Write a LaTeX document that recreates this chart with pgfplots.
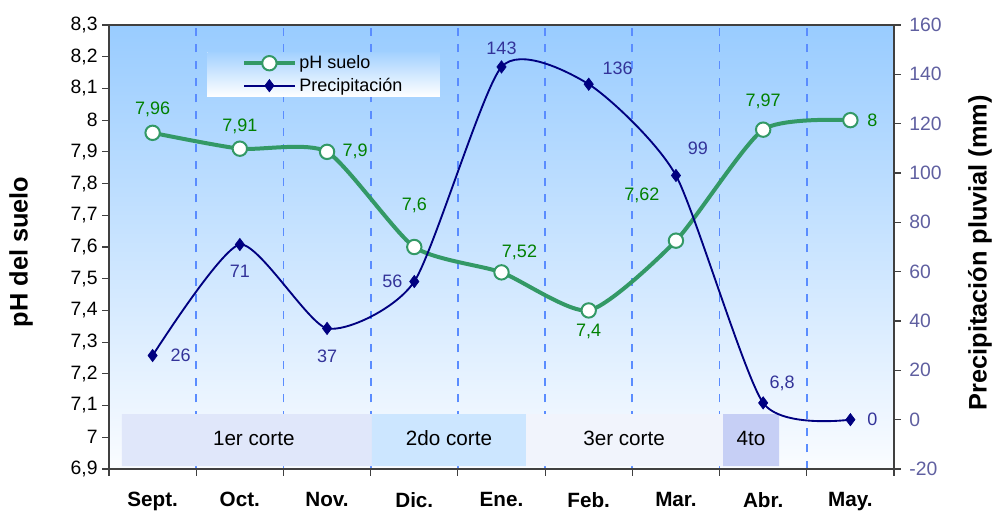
\documentclass[border=0pt]{standalone}
\usepackage{fontspec}
\setmainfont{Liberation Sans}
\usepackage{pgfplots}
\pgfplotsset{compat=1.18}
\usepackage{pgfplotstable}

\definecolor{phgreen}{HTML}{339966}
\definecolor{phlab}{HTML}{008000}
\definecolor{rainblue}{HTML}{000080}
\definecolor{rainlab}{HTML}{333399}
\definecolor{rightax}{HTML}{5F5FA0}
\definecolor{gridblue}{HTML}{5A8CFF}
\definecolor{bgtop}{HTML}{99CCFF}
\definecolor{bgbot}{HTML}{FAFCFF}
\definecolor{bandA}{HTML}{E0E7FA}
\definecolor{bandB}{HTML}{CCE6FF}
\definecolor{bandC}{HTML}{F1F4FC}
\definecolor{bandD}{HTML}{C6CFF5}
\definecolor{axisgray}{HTML}{404040}

\newcommand\labfont{\fontsize{13.5}{16}\selectfont}
\newcommand\bandfont{\fontsize{15.5}{18}\selectfont}
\newcommand\tickfont{\fontsize{14.5}{16}\selectfont}
\newcommand\titlefont{\fontsize{19}{22}\selectfont\bfseries}

% soil pH per month
\pgfplotstableread{
x y
0 7.96
1 7.91
2 7.90
3 7.60
4 7.52
5 7.40
6 7.62
7 7.97
8 8.00
}\phdata

% rainfall per month (mm)
\pgfplotstableread{
x y
0 26
1 71
2 37
3 56
4 143
5 136
6 99
7 6.8
8 0
}\raindata

\pgfplotsset{
  phstyle/.style={phgreen, line width=3pt, mark=*, mark size=5.4pt,
    mark options={fill=white, draw=phgreen, line width=1.5pt}},
  rainstyle/.style={rainblue, line width=1.4pt, mark=diamond*, mark size=4.6pt,
    mark options={fill=rainblue, draw=rainblue, line width=0.5pt}},
}
% value label placed beside a data point: {x}{y}{dx}{dy}{text}
\newcommand\phlabel[5]{\node[font=\labfont, text=phlab, inner sep=0pt, xshift=#3pt, yshift=#4pt] at (axis cs:#1,#2) {#5};}
\newcommand\rainlabel[5]{\node[font=\labfont, text=rainlab, inner sep=0pt, xshift=#3pt, yshift=#4pt] at (axis cs:#1,#2) {#5};}

\begin{document}
\begin{tikzpicture}
\useasboundingbox (-81.75pt,-31.5pt) rectangle (663.75pt,351.75pt);

\begin{axis}[
  scale only axis, width=588.75pt, height=333pt,
  xmin=-0.5, xmax=8.5, ymin=6.9, ymax=8.3,
  axis background/.style={top color=bgtop, bottom color=bgbot},
  axis line style={axisgray, line width=1.1pt},
  tick align=outside, xtick pos=left, ytick pos=left,
  major tick length=5pt,
  tick style={axisgray, line width=0.8pt},
  xtick={-0.5,0.5,...,8.5}, xticklabels={},
  xmajorgrids,
  major grid style={gridblue, line width=1.4pt, dash pattern=on 6pt off 6.5pt},
  extra x ticks={0,1,2,3,4,5,6,7,8},
  extra x tick labels={Sept.,Oct.,Nov.,Dic.,Ene.,Feb.,Mar.,Abr.,May.},
  extra x tick style={grid=none, major tick length=0pt},
  xticklabel style={font=\fontsize{15.5}{18}\selectfont\bfseries, yshift=-14pt},
  ytick={6.9,7,7.1,7.2,7.3,7.4,7.5,7.6,7.7,7.8,7.9,8,8.1,8.2,8.3},
  yticklabel style={font=\tickfont, /pgf/number format/.cd, fixed, precision=1, use comma, assume math mode=true},
  ylabel={pH del suelo},
  ylabel style={font=\titlefont, at={(axis description cs:-0.112,0.489)}, anchor=center},
]
% harvest periods along the bottom of the plot
\addplot[fill=bandA, draw=none, forget plot] coordinates {(-0.351,6.909) (2.515,6.909) (2.515,7.073) (-0.351,7.073) (-0.351,6.909)};
\addplot[fill=bandB, draw=none, forget plot] coordinates {(2.515,6.909) (4.281,6.909) (4.281,7.073) (2.515,7.073) (2.515,6.909)};
\addplot[fill=bandC, draw=none, forget plot] coordinates {(4.281,6.909) (6.540,6.909) (6.540,7.073) (4.281,7.073) (4.281,6.909)};
\addplot[fill=bandD, draw=none, forget plot] coordinates {(6.540,6.909) (7.182,6.909) (7.182,7.073) (6.540,7.073) (6.540,6.909)};
\node[font=\bandfont] at (axis cs:1.16,6.996) {1er corte};
\node[font=\bandfont] at (axis cs:3.398,6.996) {2do corte};
\node[font=\bandfont] at (axis cs:5.405,6.996) {3er corte};
\node[font=\bandfont] at (axis cs:6.86,6.996) {4to};

\addplot[phstyle, smooth, tension=0.38, forget plot] table[x=x, y=y] {\phdata};
\phlabel{0}{7.96}{0}{17.25}{7,96}
\phlabel{1}{7.91}{0}{16.5}{7,91}
\phlabel{2}{7.90}{21}{0}{7,9}
\phlabel{3}{7.60}{0}{31.5}{7,6}
\phlabel{4}{7.52}{13.5}{15}{7,52}
\phlabel{5}{7.40}{0}{-15.75}{7,4}
\phlabel{6}{7.62}{-25.5}{33.75}{7,62}
\phlabel{7}{7.97}{0}{21}{7,97}
\phlabel{8}{8.00}{16.5}{0}{8}
\end{axis}

\begin{axis}[
  scale only axis, width=588.75pt, height=333pt,
  xmin=-0.5, xmax=8.5, ymin=-20, ymax=160,
  axis x line=none, axis y line*=right,
  axis line style={axisgray, line width=1.1pt},
  tick align=outside, ytick pos=right,
  major tick length=5pt,
  tick style={axisgray, line width=0.8pt},
  ytick={-20,0,20,40,60,80,100,120,140,160},
  yticklabel style={font=\tickfont, text=rightax, xshift=3pt, /pgf/number format/assume math mode=true},
  ylabel={Precipitación pluvial (mm)},
  ylabel style={font=\titlefont, at={(axis description cs:1.1096,0.487)}, anchor=center},
  legend cell align=left,
  legend image code/.code={\draw[mark repeat=2, mark phase=2] plot coordinates {(0pt,0pt) (19pt,0pt) (38pt,0pt)};},
  legend style={at={(0.125,0.939)}, anchor=north west, draw=none,
    top color=bgtop!90!white, middle color=white, bottom color=white,
    font=\labfont, inner xsep=26pt, inner ysep=0.5pt, row sep=1.5pt},
]
\addlegendimage{phstyle}
\addlegendentry{pH suelo}
\addlegendimage{rainstyle}
\addlegendentry{Precipitación}
\addplot[rainstyle, smooth, tension=0.38, forget plot] table[x=x, y=y] {\raindata};
\rainlabel{0}{26}{21}{0}{26}
\rainlabel{1}{71}{0}{-20.25}{71}
\rainlabel{2}{37}{0}{-21}{37}
\rainlabel{3}{56}{-16.5}{0}{56}
\rainlabel{4}{143}{0}{14.25}{143}
\rainlabel{5}{136}{21.75}{12}{136}
\rainlabel{6}{99}{16.5}{20.25}{99}
\rainlabel{7}{6.8}{14.25}{15}{6,8}
\rainlabel{8}{0}{16.5}{0}{0}
\end{axis}
\end{tikzpicture}
\end{document}
